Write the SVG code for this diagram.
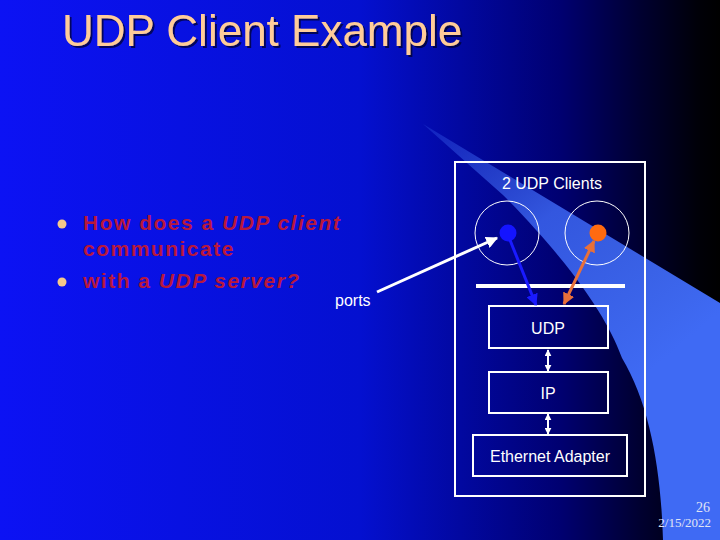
<svg xmlns="http://www.w3.org/2000/svg" width="720" height="540" viewBox="0 0 720 540">
<defs>
<linearGradient id="bg" x1="0" y1="0" x2="720" y2="0" gradientUnits="userSpaceOnUse">
<stop offset="0" stop-color="#0c12f4"/>
<stop offset="0.5" stop-color="#0410d0"/>
<stop offset="0.78" stop-color="#000070"/>
<stop offset="0.89" stop-color="#000030"/>
<stop offset="0.97" stop-color="#000008"/>
<stop offset="1" stop-color="#000000"/>
</linearGradient>
<linearGradient id="beam" x1="423" y1="124" x2="640" y2="380" gradientUnits="userSpaceOnUse">
<stop offset="0" stop-color="#3c66f2" stop-opacity="0.25"/>
<stop offset="0.45" stop-color="#3c66f2" stop-opacity="0.85"/>
<stop offset="1" stop-color="#3f6af4" stop-opacity="1"/>
</linearGradient>
<filter id="sh" x="-5%" y="-20%" width="110%" height="140%">
<feDropShadow dx="2" dy="2" stdDeviation="0.6" flood-color="#000020" flood-opacity="0.7"/>
</filter>
<marker id="aw" viewBox="0 0 10 10" refX="9" refY="5" markerWidth="4" markerHeight="4" orient="auto-start-reverse">
<path d="M0,0 L10,5 L0,10 z" fill="#ffffff"/>
</marker>
<marker id="ab" viewBox="0 0 10 10" refX="9" refY="5" markerWidth="4" markerHeight="4" orient="auto-start-reverse">
<path d="M0,0 L10,5 L0,10 z" fill="#1a1aff"/>
</marker>
<marker id="ao" viewBox="0 0 10 10" refX="9" refY="5" markerWidth="4" markerHeight="4" orient="auto-start-reverse">
<path d="M0,0 L10,5 L0,10 z" fill="#e8703a"/>
</marker>
<marker id="ad" viewBox="0 0 10 10" refX="9" refY="5" markerWidth="3.5" markerHeight="3.5" orient="auto-start-reverse">
<path d="M0,0 L10,5 L0,10 z" fill="#ffffff"/>
</marker>
</defs>
<style>
.box{fill:none;stroke:#ffffff;stroke-width:2}
.lbl{font-family:"Liberation Sans",Arial,sans-serif;font-size:16px;fill:#ffffff;text-anchor:middle}
.q{font-family:"Liberation Sans",Arial,sans-serif;font-size:21px;font-weight:bold;fill:#b8183c;letter-spacing:1.5px}
.ring{fill:none;stroke:#ffffff;stroke-width:1}
.dbl{stroke:#ffffff;stroke-width:2;fill:none}
</style>
<rect x="0" y="0" width="720" height="540" fill="url(#bg)"/>
<path d="M423,124 L720,303 L720,540 L663,540 C661,470 650,405 622,358 C612,330 585,278 503,195 Z" fill="url(#beam)"/>
<text x="62" y="46" font-family="Liberation Sans,Arial,sans-serif" font-size="44" fill="#ffcc99" filter="url(#sh)">UDP Client Example</text>
<g id="bullets">
<circle cx="62" cy="224" r="4.5" fill="#f5c88a"/>
<circle cx="62" cy="282" r="4.5" fill="#f5c88a"/>
<text class="q" x="83" y="230">How does a <tspan font-style="italic">UDP client</tspan></text>
<text class="q" x="83" y="256">communicate</text>
<text class="q" x="83" y="288">with a <tspan font-style="italic">UDP server?</tspan></text>
</g>
<g id="stack-frame">
<rect class="box" x="455" y="162" width="190" height="334" stroke-width="1.5"/>
<text class="lbl" x="552" y="189">2 UDP Clients</text>
</g>
<g id="client1">
<circle class="ring" cx="507" cy="233" r="32"/>
<circle cx="508" cy="233" r="8.5" fill="#1414ff"/>
</g>
<g id="client2">
<circle class="ring" cx="597" cy="233" r="32"/>
<circle cx="598" cy="233" r="8.5" fill="#ff6a10"/>
</g>
<g id="ports-bar">
<line x1="476" y1="286" x2="625" y2="286" stroke="#ffffff" stroke-width="4"/>
</g>
<g id="ports-label">
<text x="335" y="306" font-family="Liberation Sans,Arial,sans-serif" font-size="16" fill="#ffffff">ports</text>
</g>
<g id="udp">
<rect class="box" x="489" y="306" width="119" height="42"/>
<text class="lbl" x="548" y="334">UDP</text>
</g>
<g id="ip">
<rect class="box" x="489" y="372" width="119" height="41"/>
<text class="lbl" x="548" y="399">IP</text>
</g>
<g id="eth">
<rect class="box" x="473" y="435" width="154" height="41"/>
<text class="lbl" x="550" y="462">Ethernet Adapter</text>
</g>
<g id="connectors">
<line x1="377" y1="292" x2="497" y2="238" stroke="#ffffff" stroke-width="3" marker-end="url(#aw)"/>
<line x1="510" y1="240" x2="536" y2="305" stroke="#1a1aff" stroke-width="3" marker-end="url(#ab)"/>
<line x1="594" y1="241" x2="564" y2="304" stroke="#e8703a" stroke-width="3" marker-start="url(#ao)" marker-end="url(#ao)"/>
<line x1="548" y1="350" x2="548" y2="371" class="dbl" marker-start="url(#ad)" marker-end="url(#ad)"/>
<line x1="548" y1="414" x2="548" y2="434" class="dbl" marker-start="url(#ad)" marker-end="url(#ad)"/>
</g>
<g id="footer">
<text x="710" y="512" font-family="Liberation Serif,Times New Roman,serif" font-size="14" fill="#e0e4f4" text-anchor="end">26</text>
<text x="711" y="527" font-family="Liberation Serif,Times New Roman,serif" font-size="13" fill="#e0e4f4" text-anchor="end">2/15/2022</text>
</g>
</svg>
